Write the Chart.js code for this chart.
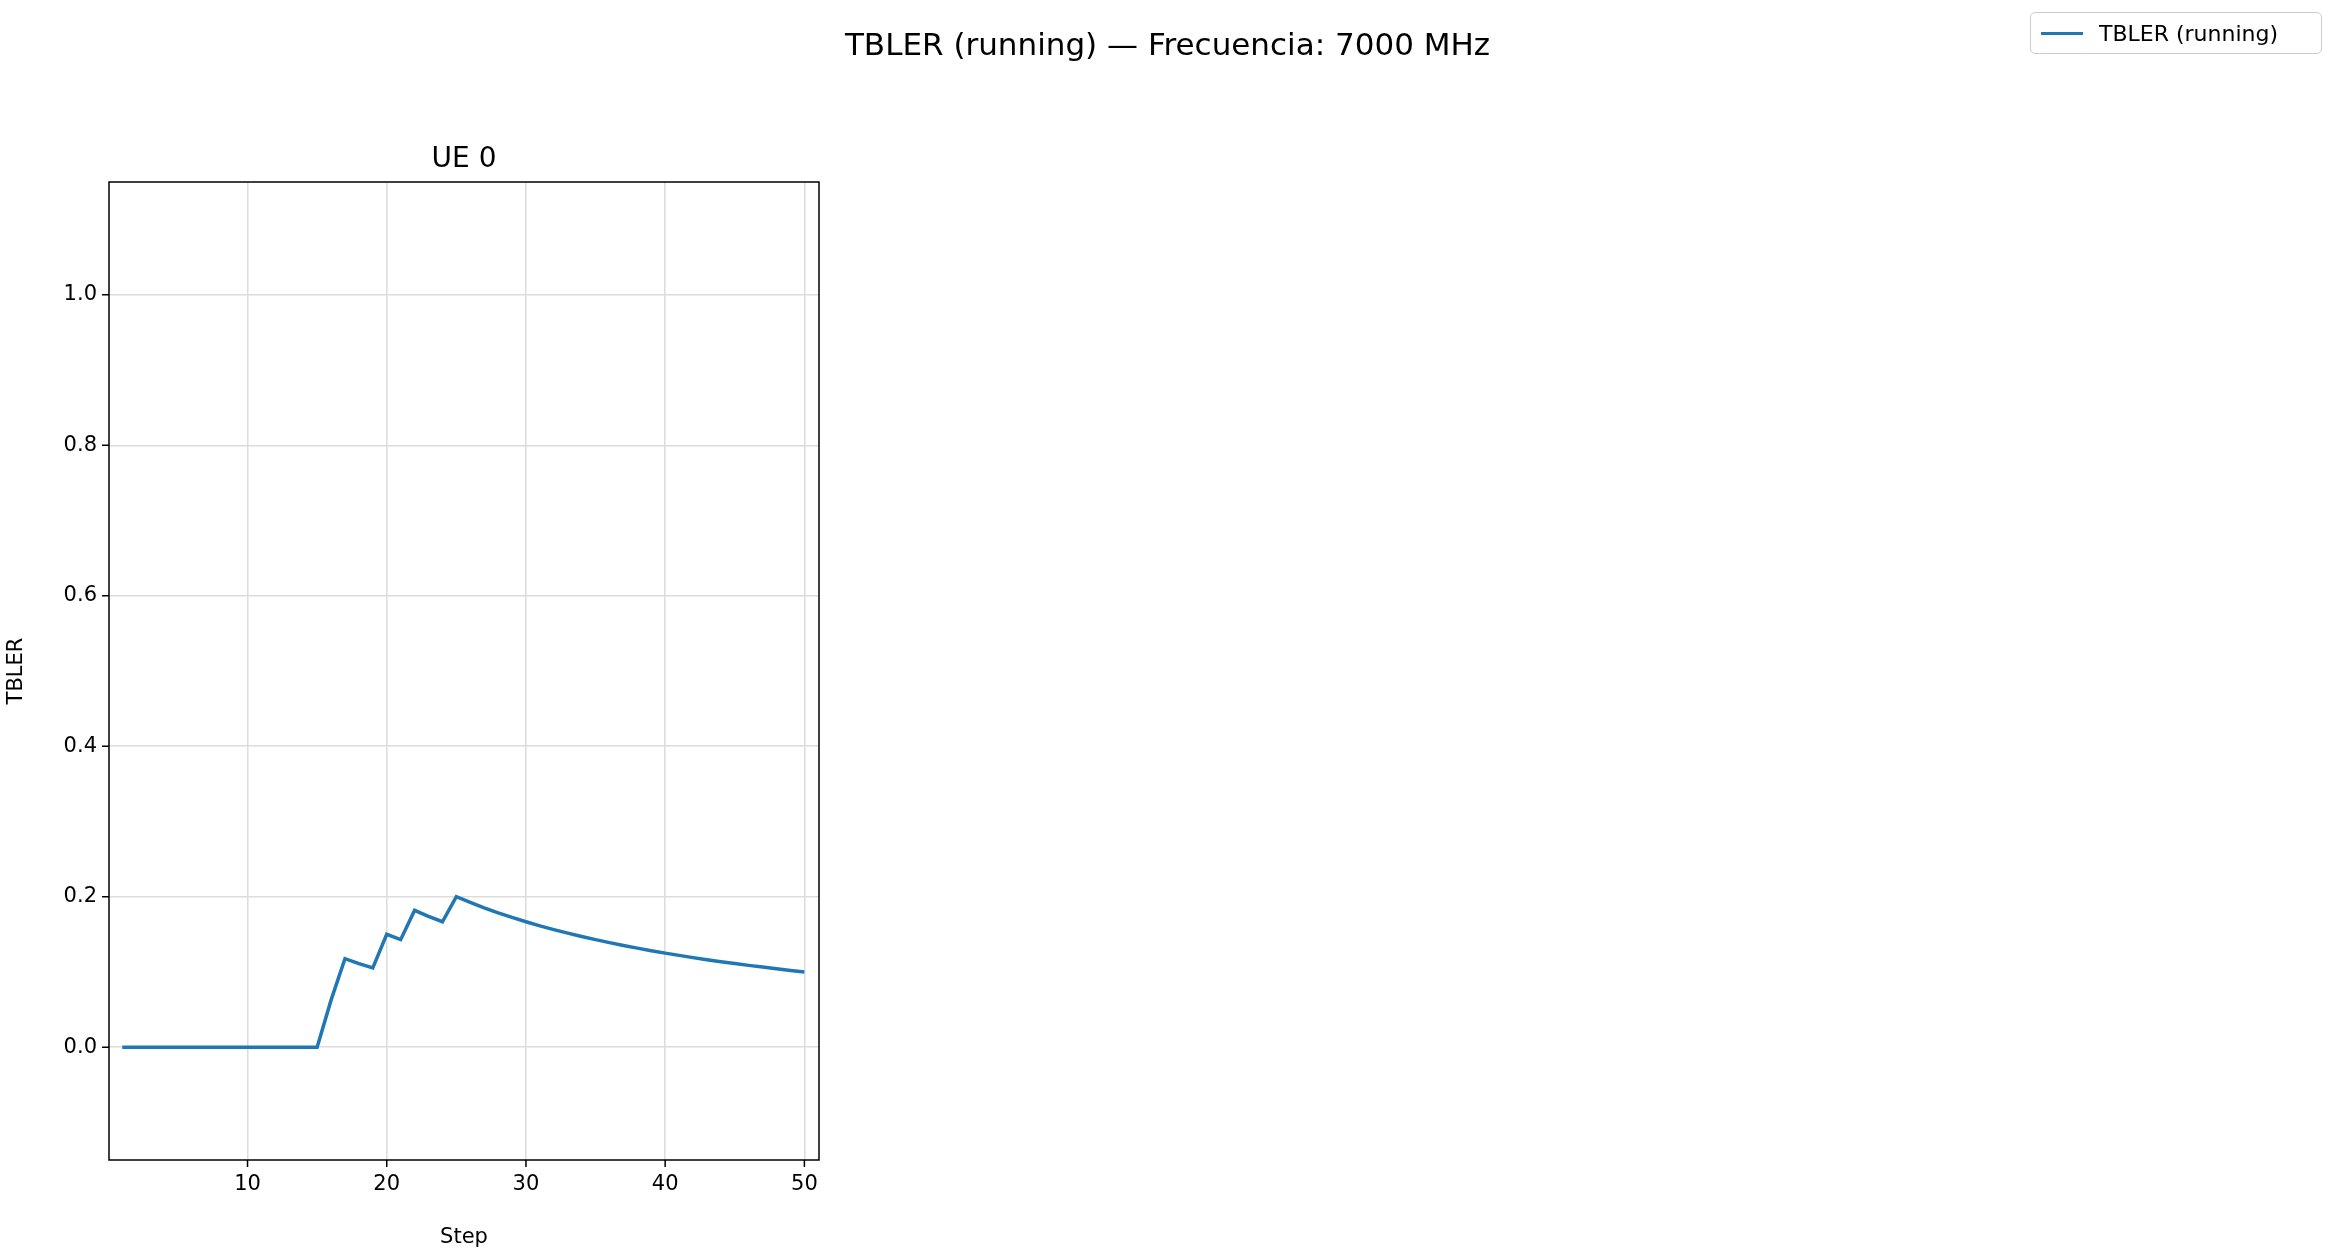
<!DOCTYPE html>
<html>
<head>
<meta charset="utf-8">
<script src="https://cdn.jsdelivr.net/npm/chart.js@4.4.1/dist/chart.umd.min.js"></script>
<style>
  html, body { margin: 0; padding: 0; background: #fff; }
  #wrap { position: relative; width: 2335px; height: 1254px; }
  #suptitle { position: absolute; top: 26px; left: 0; width: 2335px; text-align: center;
    font: 31px "DejaVu Sans", sans-serif; color: #000; }
  #legend { position: absolute; left: 2030px; top: 12px; width: 292px; height: 42px; box-sizing: border-box;
    border: 1.5px solid #ccc; border-radius: 5px; font: 22px "DejaVu Sans", sans-serif;
    display: flex; align-items: center; }
  #legend span.sw { display: inline-block; width: 42px; height: 3px; background: #1f77b4; margin: 0 16px 0 10px; }
</style>
</head>
<body>
<div id="wrap">
  <canvas id="c" width="2335" height="1254"></canvas>
  <div id="suptitle">TBLER (running) — Frecuencia: 7000 MHz</div>
  <div id="legend"><span class="sw"></span>TBLER (running)</div>
</div>
<script>
// ===========================
// DATA
// ===========================
const steps = [];
for (let i = 1; i <= 50; i++) steps.push(i);

const tbler = [
    0, 0, 0, 0, 0, 0, 0, 0, 0, 0,
    0, 0, 0, 0, 0, 0.0625, 0.1176, 0.1111, 0.1053, 0.15,
    0.1429, 0.1818, 0.1739, 0.1667, 0.2, 0.1923, 0.1852, 0.1786, 0.1724, 0.1667,
    0.1613, 0.1563, 0.1515, 0.1471, 0.1429, 0.1389, 0.1351, 0.1316, 0.1282, 0.125,
    0.122, 0.119, 0.1163, 0.1136, 0.1111, 0.1087, 0.1064, 0.1042, 0.102, 0.1
];

const xTicks = [10, 20, 30, 40, 50];
const yTicks = [0, 0.2, 0.4, 0.6, 0.8, 1.0];

const FONT = '"DejaVu Sans", sans-serif';

// frame, tick marks and subplot title
const framePlugin = {
    id: 'frame',
    afterDraw(chart) {
        const { ctx, chartArea: a, scales } = chart;
        ctx.save();
        ctx.strokeStyle = '#000';
        ctx.lineWidth = 1.5;
        ctx.strokeRect(a.left, a.top, a.right - a.left, a.bottom - a.top);
        ctx.beginPath();
        xTicks.forEach(v => {
            const x = scales.x.getPixelForValue(v);
            ctx.moveTo(x, a.bottom); ctx.lineTo(x, a.bottom + 7);
        });
        yTicks.forEach(v => {
            const y = scales.y.getPixelForValue(v);
            ctx.moveTo(a.left, y); ctx.lineTo(a.left - 7, y);
        });
        ctx.stroke();
        ctx.fillStyle = '#000';
        ctx.font = '28px ' + FONT;
        ctx.textAlign = 'center';
        ctx.textBaseline = 'bottom';
        ctx.fillText('UE 0', (a.left + a.right) / 2, a.top - 8);
        ctx.restore();
    }
};

new Chart(document.getElementById('c'), {
    type: 'line',
    data: {
        labels: steps,
        datasets: [{
            label: 'TBLER (running)',
            data: steps.map((s, i) => ({ x: s, y: tbler[i] })),
            borderColor: '#1f77b4',
            borderWidth: 3.5,
            pointRadius: 0,
            tension: 0
        }]
    },
    options: {
        responsive: false,
        animation: false,
        layout: { padding: { top: 182, right: 1516, left: 0, bottom: 0 } },
        plugins: { legend: { display: false }, tooltip: { enabled: false } },
        scales: {
            x: {
                type: 'linear',
                min: 0.05,
                max: 51.05,
                afterBuildTicks: s => { s.ticks = xTicks.map(v => ({ value: v })); },
                afterFit: s => { s.height = 94; },
                grid: { color: '#dcdcdc', lineWidth: 1.5, borderDash: [6, 4], drawTicks: false },
                border: { display: false },
                ticks: { color: '#000', font: { size: 21, family: FONT }, padding: 12, maxRotation: 0 },
                title: { display: true, text: 'Step', color: '#000', font: { size: 21, family: FONT }, padding: { top: 4 } }
            },
            y: {
                min: -0.15,
                max: 1.15,
                afterBuildTicks: s => { s.ticks = yTicks.map(v => ({ value: v })); },
                afterFit: s => { s.width = 109; },
                grid: { color: '#dcdcdc', lineWidth: 1.5, borderDash: [6, 4], drawTicks: false },
                border: { display: false },
                ticks: { color: '#000', font: { size: 21, family: FONT }, padding: 12,
                    callback: v => v.toFixed(1) },
                title: { display: true, text: 'TBLER', color: '#000', font: { size: 21, family: FONT }, padding: { bottom: 4 } }
            }
        }
    },
    plugins: [framePlugin]
});
</script>
</body>
</html>
